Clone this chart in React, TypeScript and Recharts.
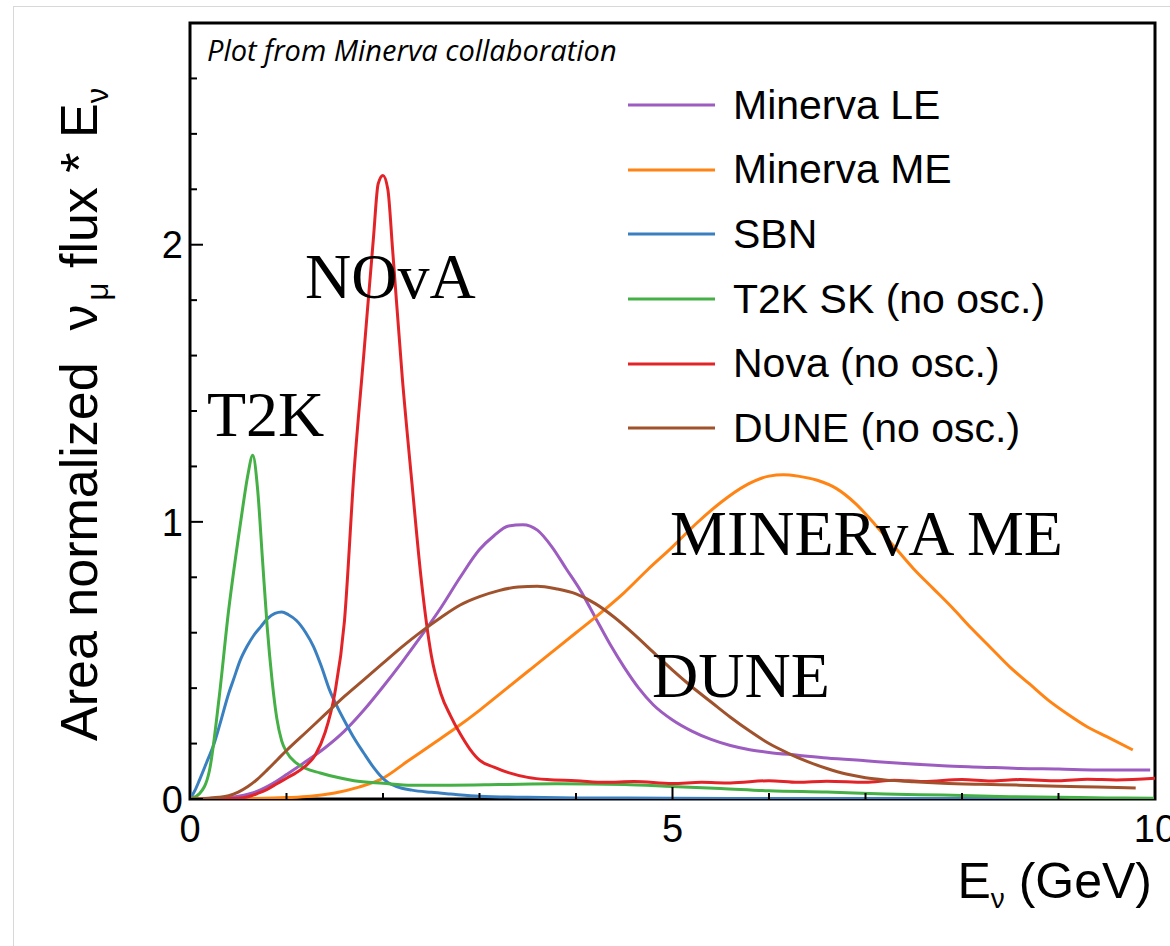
import { Legend, Line, LineChart, ReferenceArea, ReferenceDot, XAxis, YAxis } from "recharts"

// [E (GeV), area normalized flux * E]
const minervaLE = [
  [0, 0], [0.4, 0.005], [0.5, 0.01], [0.6, 0.017], [0.7, 0.028], [0.8, 0.045], [0.9, 0.065], [1.0, 0.088],
  [1.2, 0.135], [1.4, 0.185], [1.6, 0.245], [1.8, 0.32], [2.0, 0.405], [2.2, 0.495], [2.4, 0.59], [2.6, 0.69],
  [2.8, 0.8], [3.0, 0.9], [3.15, 0.95], [3.3, 0.985], [3.45, 0.99], [3.6, 0.97], [3.75, 0.91], [3.9, 0.83],
  [4.05, 0.75], [4.2, 0.655], [4.35, 0.56], [4.5, 0.475], [4.65, 0.4], [4.8, 0.34], [5.0, 0.285], [5.2, 0.245],
  [5.4, 0.215], [5.6, 0.193], [5.8, 0.178], [6.0, 0.168], [6.3, 0.158], [6.6, 0.148], [7.0, 0.138],
  [7.4, 0.128], [7.8, 0.12], [8.2, 0.115], [8.6, 0.11], [9.0, 0.108], [9.4, 0.105], [9.95, 0.105],
]

const minervaME = [
  [0, 0], [0.5, 0.001], [1.0, 0.005], [1.25, 0.01], [1.5, 0.022], [1.75, 0.043], [2.0, 0.075], [2.25, 0.135],
  [2.5, 0.195], [2.75, 0.255], [3.0, 0.32], [3.25, 0.39], [3.5, 0.46], [3.75, 0.53], [4.0, 0.6], [4.25, 0.67],
  [4.5, 0.745], [4.75, 0.83], [5.0, 0.91], [5.25, 0.995], [5.5, 1.07], [5.75, 1.13], [6.0, 1.165], [6.15, 1.17],
  [6.3, 1.165], [6.5, 1.15], [6.7, 1.12], [6.9, 1.065], [7.1, 0.99], [7.3, 0.91], [7.5, 0.83], [7.7, 0.76],
  [7.9, 0.69], [8.1, 0.615], [8.3, 0.545], [8.5, 0.475], [8.7, 0.415], [8.9, 0.355], [9.1, 0.305],
  [9.3, 0.26], [9.5, 0.225], [9.77, 0.177],
]

const sbn = [
  [0, 0], [0.05, 0.03], [0.1, 0.07], [0.17, 0.13], [0.25, 0.2], [0.31, 0.27], [0.4, 0.38], [0.45, 0.43],
  [0.52, 0.5], [0.59, 0.55], [0.66, 0.59], [0.73, 0.62], [0.8, 0.65], [0.88, 0.67], [0.95, 0.675],
  [1.02, 0.665], [1.1, 0.645], [1.2, 0.6], [1.28, 0.55], [1.36, 0.48], [1.45, 0.39], [1.53, 0.33],
  [1.62, 0.27], [1.7, 0.22], [1.8, 0.166], [1.9, 0.115], [1.97, 0.085], [2.05, 0.06], [2.14, 0.045],
  [2.3, 0.032], [2.5, 0.024], [2.7, 0.018], [3.0, 0.01], [3.5, 0.006], [4.0, 0.004], [5.0, 0.003],
  [6.0, 0.002], [7.0, 0.002], [8.0, 0.001], [9.0, 0.001],
]

const t2k = [
  [0, 0], [0.1, 0.02], [0.2, 0.1], [0.3, 0.36], [0.4, 0.68], [0.5, 0.94], [0.55, 1.06], [0.6, 1.17],
  [0.65, 1.24], [0.7, 1.12], [0.75, 0.87], [0.8, 0.62], [0.85, 0.43], [0.9, 0.29], [0.95, 0.21], [1.0, 0.17],
  [1.1, 0.13], [1.2, 0.11], [1.35, 0.094], [1.5, 0.08], [1.7, 0.066], [2.0, 0.057], [2.3, 0.05], [2.7, 0.05],
  [3.2, 0.052], [3.8, 0.055], [4.5, 0.052], [5.0, 0.045], [5.5, 0.038], [6.0, 0.03], [6.6, 0.025],
  [7.2, 0.018], [7.8, 0.014], [8.5, 0.008], [9.0, 0.006], [9.5, 0.004], [10, 0.003],
]

const nova = [
  [0, 0], [0.5, 0.003], [0.6, 0.008], [0.7, 0.02], [0.8, 0.035], [0.9, 0.055], [1.0, 0.075], [1.1, 0.095],
  [1.2, 0.12], [1.3, 0.16], [1.4, 0.24], [1.5, 0.38], [1.6, 0.64], [1.7, 1.18], [1.8, 1.6], [1.9, 2.02],
  [1.95, 2.22], [2.0, 2.25], [2.05, 2.2], [2.1, 1.98], [2.2, 1.52], [2.3, 1.14], [2.4, 0.78], [2.5, 0.52],
  [2.6, 0.38], [2.7, 0.3], [2.8, 0.235], [2.9, 0.18], [3.0, 0.14], [3.15, 0.115], [3.3, 0.095], [3.5, 0.078],
  [3.7, 0.07], [4.0, 0.066], [4.3, 0.06], [4.6, 0.063], [5.0, 0.056], [5.3, 0.06], [5.6, 0.058], [6.0, 0.066],
  [6.3, 0.06], [6.6, 0.064], [7.0, 0.06], [7.3, 0.068], [7.6, 0.063], [8.0, 0.07], [8.3, 0.065], [8.6, 0.07],
  [9.0, 0.066], [9.3, 0.071], [9.6, 0.069], [10, 0.075],
]

const dune = [
  [0, 0], [0.2, 0.003], [0.3, 0.006], [0.4, 0.012], [0.5, 0.025], [0.6, 0.045], [0.7, 0.072], [0.8, 0.105],
  [0.9, 0.14], [1.0, 0.175], [1.2, 0.24], [1.4, 0.305], [1.6, 0.37], [1.8, 0.43], [2.0, 0.49], [2.2, 0.55],
  [2.4, 0.605], [2.6, 0.655], [2.8, 0.7], [3.0, 0.73], [3.2, 0.752], [3.4, 0.765], [3.6, 0.768], [3.8, 0.758],
  [4.0, 0.74], [4.2, 0.705], [4.4, 0.655], [4.6, 0.595], [4.8, 0.53], [5.0, 0.465], [5.2, 0.405], [5.4, 0.35],
  [5.6, 0.295], [5.8, 0.245], [6.0, 0.2], [6.2, 0.165], [6.4, 0.135], [6.6, 0.11], [6.8, 0.09], [7.0, 0.077],
  [7.2, 0.069], [7.5, 0.062], [7.8, 0.057], [8.2, 0.053], [8.6, 0.05], [9.0, 0.046], [9.4, 0.043], [9.8, 0.04],
]

const xTicks = [0, 1, 2, 3, 4, 5, 6, 7, 8, 9, 10]
const xLabels = [0, 5, 10]
const yTicks = [0, 0.2, 0.4, 0.6, 0.8, 1, 1.2, 1.4, 1.6, 1.8, 2, 2.2, 2.4, 2.6, 2.8]
const yLabels = [0, 1, 2]

const series = [
  { name: "Minerva LE", color: "#9c5cc0", data: minervaLE },
  { name: "Minerva ME", color: "#ff8414", data: minervaME },
  { name: "SBN", color: "#3a80c0", data: sbn },
  { name: "T2K SK (no osc.)", color: "#45b045", data: t2k },
  { name: "Nova (no osc.)", color: "#e22428", data: nova },
  { name: "DUNE (no osc.)", color: "#a0522d", data: dune },
]

// annotation text anchored at (E, value) of its baseline start
const annotations = [
  { text: "T2K", e: 0.176, v: 1.31 },
  { text: "NOvA", e: 1.192, v: 1.808 },
  { text: "MINERvA ME", e: 4.974, v: 0.881 },
  { text: "DUNE", e: 4.788, v: 0.368 },
]

const SANS = '"Liberation Sans", Arial, Helvetica, sans-serif'
const SERIF = '"Liberation Serif", "Times New Roman", serif'

const toPts = (arr: number[][]) => arr.map(([e, v]) => ({ e, v }))

function YTick({ x, y, payload }: any) {
  const major = yLabels.includes(payload.value)
  return (
    <g>
      <line x1={x} x2={x + (major ? 13 : 7)} y1={y} y2={y} stroke="#000" strokeWidth={2} />
      {major && (
        <text x={x - 7} y={y} dy="0.36em" textAnchor="end" fontSize={38} fontFamily={SANS} fill="#000">
          {payload.value}
        </text>
      )}
    </g>
  )
}

function XTick({ x, y, payload }: any) {
  const major = xLabels.includes(payload.value)
  return (
    <g>
      <line x1={x} x2={x} y1={y} y2={y - (major ? 12 : 6)} stroke="#000" strokeWidth={2} />
      {major && (
        <text x={x} y={y + 43} textAnchor="middle" fontSize={38} fontFamily={SANS} fill="#000">
          {payload.value}
        </text>
      )}
    </g>
  )
}

function YTitle({ viewBox }: any) {
  const bx = viewBox.x - 33
  const by = viewBox.y + viewBox.height - 58
  return (
    <text
      x={bx}
      y={by}
      transform={`rotate(-90 ${bx} ${by})`}
      fontSize={52}
      fontFamily={SANS}
      fill="#000"
      textAnchor="start"
    >
      Area normalized
      <tspan dx={32}>ν</tspan>
      <tspan dx={4} dy={11} fontSize={31}>μ</tspan>
      <tspan dx={0} dy={-11}>{" flux * E"}</tspan>
      <tspan dy={11} fontSize={31}>ν</tspan>
    </text>
  )
}

function XTitle({ viewBox }: any) {
  const rx = viewBox.x + viewBox.width - 3
  const by = viewBox.y + 99
  return (
    <text x={rx} y={by} textAnchor="end" fontSize={50} fontFamily={SANS} fill="#000">
      E<tspan dy={10} fontSize={28}>ν</tspan>
      <tspan dy={-10}>{" (GeV)"}</tspan>
    </text>
  )
}

function LegendBox() {
  return (
    <div style={{ fontFamily: SANS, fontSize: 41, color: "#000" }}>
      {series.map((s) => (
        <div key={s.name} style={{ height: 64.6, display: "flex", alignItems: "center" }}>
          <svg width={87} height={6} style={{ display: "block" }}>
            <line x1={0} x2={87} y1={3} y2={3} stroke={s.color} strokeWidth={3} />
          </svg>
          <span style={{ marginLeft: 18, whiteSpace: "nowrap", lineHeight: 1 }}>{s.name}</span>
        </div>
      ))}
    </div>
  )
}

export default function App() {
  return (
    <div style={{ position: "fixed", left: 0, top: 0, width: 1170, height: 946, background: "#fff", overflow: "hidden" }}>
      <div style={{ position: "absolute", left: 13, top: 6, right: 0, bottom: 0, borderTop: "1px solid #d8d8d8", borderLeft: "1px solid #d8d8d8" }} />
      <LineChart width={1170} height={946} margin={{ top: 23, right: 15, left: 130, bottom: 87 }}>
        <XAxis
          type="number"
          dataKey="e"
          domain={[0, 10]}
          ticks={xTicks}
          interval={0}
          allowDataOverflow
          axisLine={false}
          tickLine={false}
          tickSize={0}
          tickMargin={0}
          height={60}
          tick={<XTick />}
          label={(props: any) => <XTitle {...props} />}
        />
        <YAxis
          type="number"
          domain={[0, 2.8]}
          ticks={yTicks}
          interval={0}
          allowDataOverflow
          axisLine={false}
          tickLine={false}
          tickSize={0}
          tickMargin={0}
          width={60}
          tick={<YTick />}
          label={(props: any) => <YTitle {...props} />}
        />
        <ReferenceArea x1={0} x2={10} y1={0} y2={2.8} fill="none" stroke="#000" strokeWidth={3} ifOverflow="visible" />
        {series.map((s) => (
          <Line
            key={s.name}
            data={toPts(s.data)}
            dataKey="v"
            name={s.name}
            type="monotone"
            stroke={s.color}
            strokeWidth={3}
            dot={false}
            activeDot={false}
            isAnimationActive={false}
          />
        ))}
        <ReferenceDot
          x={0.176}
          y={2.663}
          r={1}
          ifOverflow="visible"
          shape={(p: any) => (
            <text x={p.cx} y={p.cy} fontSize={29} fontStyle="italic" fontFamily='"Open Sans", sans-serif' fill="#000">
              Plot from Minerva collaboration
            </text>
          )}
        />
        {annotations.map((a) => (
          <ReferenceDot
            key={a.text}
            x={a.e}
            y={a.v}
            r={1}
            ifOverflow="visible"
            shape={(p: any) => (
              <text x={p.cx} y={p.cy} fontSize={64} fontFamily={SERIF} fill="#000">
                {a.text}
              </text>
            )}
          />
        ))}
        <Legend
          layout="vertical"
          align="center"
          verticalAlign="middle"
          content={<LegendBox />}
          wrapperStyle={{ left: 628, top: 73, width: 530 }}
        />
      </LineChart>
    </div>
  )
}
